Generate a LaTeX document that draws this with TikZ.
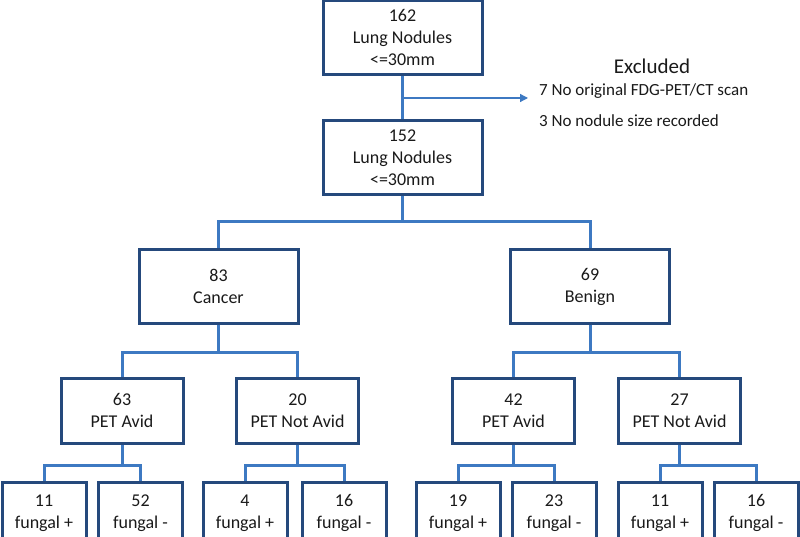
\documentclass[tikz,border=0pt]{standalone}
\usepackage{fontspec}
\setmainfont{Carlito}
\usetikzlibrary{arrows.meta}
\definecolor{boxc}{HTML}{25497C}
\definecolor{linec}{HTML}{3D79C2}
\definecolor{txtc}{HTML}{1A1A1A}
\newcommand{\leaftext}[2]{\raisebox{6pt}{\begin{tabular}{@{}c@{}}#1\\#2\end{tabular}}}
\begin{document}
\begin{tikzpicture}[x=1pt,y=-1pt,
  box/.style={draw=boxc,line width=3pt,rectangle,align=center,text=txtc,
    font=\fontsize{18}{22}\selectfont,inner sep=0pt},
  bigbox/.style={box,minimum width=159pt,minimum height=74pt},
  midbox/.style={box,minimum width=122pt,minimum height=65pt},
  leafbox/.style={box,minimum width=84pt,minimum height=63pt},
  conn/.style={draw=linec,line width=3pt},
  exarrow/.style={draw=linec,line width=1.3pt,-{Triangle[length=8pt,width=8pt]}},
  extxt/.style={text=txtc,inner sep=0pt,font=\fontsize{17}{20}\selectfont}]
\clip (0,0) rectangle (800,537);
\fill[white] (0,0) rectangle (800,537);
% top
\node[bigbox] (n162) at (402.5,37.5) {162\\Lung Nodules\\<=30mm};
\node[bigbox] (n152) at (402.5,158) {152\\Lung Nodules\\<=30mm};
\node[bigbox,minimum height=73pt] (cancer) at (218.5,286.5) {83\\Cancer};
\node[bigbox,minimum height=73pt] (benign) at (590,286.5) {69\\Benign};
% mid
\node[midbox] (c1) at (122,410.5) {63\\PET Avid};
\node[midbox] (c2) at (297.5,410.5) {20\\PET Not Avid};
\node[midbox] (b1) at (513.5,410.5) {42\\PET Avid};
\node[midbox] (b2) at (679.5,410.5) {27\\PET Not Avid};
% leaves
\node[leafbox] (l1) at (44,513.5) {\leaftext{11}{fungal +}};
\node[leafbox] (l2) at (140.5,513.5) {\leaftext{52}{fungal -}};
\node[leafbox] (l3) at (245,513.5) {\leaftext{4}{fungal +}};
\node[leafbox] (l4) at (344,513.5) {\leaftext{16}{fungal -}};
\node[leafbox] (l5) at (458,513.5) {\leaftext{19}{fungal +}};
\node[leafbox] (l6) at (554,513.5) {\leaftext{23}{fungal -}};
\node[leafbox] (l7) at (660,513.5) {\leaftext{11}{fungal +}};
\node[leafbox] (l8) at (756,513.5) {\leaftext{16}{fungal -}};
% bar levels
\coordinate (y1) at (0,222);
\coordinate (y2) at (0,352);
\coordinate (y3) at (0,465);
% connectors
\draw[conn] (n162.south) -- (n152.north);
\draw[conn] (n152.south) -- (n152.south |- y1) -| (cancer.north);
\draw[conn] (n152.south |- y1) -| (benign.north);
\draw[conn] (cancer.south) -- (cancer.south |- y2) -| (c1.north);
\draw[conn] (cancer.south |- y2) -| (c2.north);
\draw[conn] (benign.south) -- (benign.south |- y2) -| (b1.north);
\draw[conn] (benign.south |- y2) -| (b2.north);
\draw[conn] (c1.south) -- (c1.south |- y3) -| (l1.north);
\draw[conn] (c1.south |- y3) -| (l2.north);
\draw[conn] (c2.south) -- (c2.south |- y3) -| (l3.north);
\draw[conn] (c2.south |- y3) -| (l4.north);
\draw[conn] (b1.south) -- (b1.south |- y3) -| (l5.north);
\draw[conn] (b1.south |- y3) -| (l6.north);
\draw[conn] (b2.south) -- (b2.south |- y3) -| (l7.north);
\draw[conn] (b2.south |- y3) -| (l8.north);
% excluded
\coordinate (ex) at (528,98);
\draw[exarrow] (n162.south |- ex) -- (ex);
\node[extxt,font=\fontsize{21}{24}\selectfont] (exh) at (652,66) {Excluded};
\node[extxt,anchor=west] (ex1) at (539,91) {7 No original FDG-PET/CT scan};
\node[extxt,anchor=west] (ex2) at (539,121) {3 No nodule size recorded};
\end{tikzpicture}
\end{document}
